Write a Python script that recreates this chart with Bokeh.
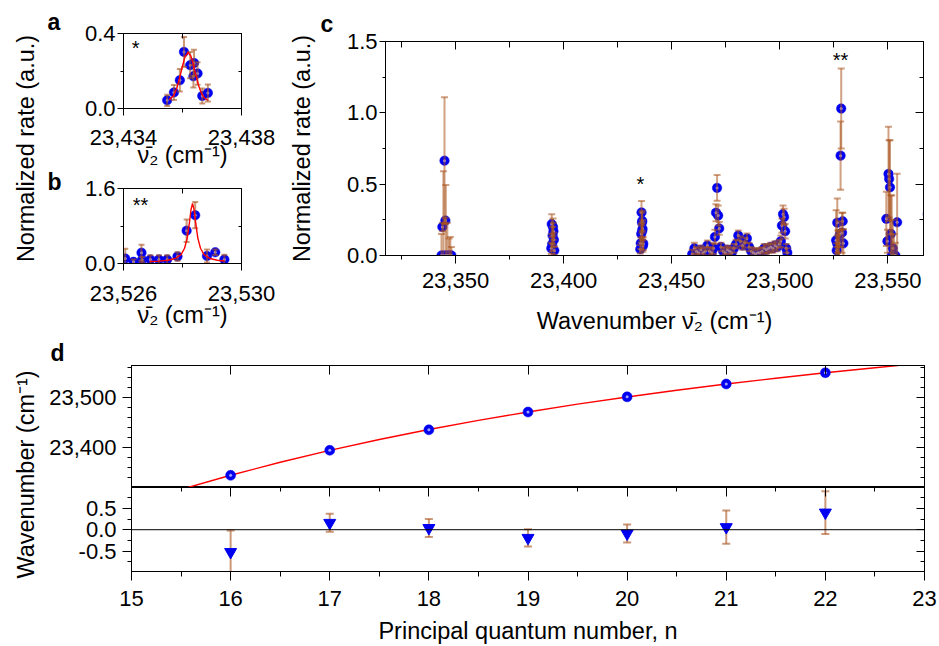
import math
from bokeh.plotting import figure
from bokeh.models import (ColumnDataSource, FixedTicker, NumeralTickFormatter,
                          LinearAxis, Label, Span, Range1d, Row, Column)
from bokeh.embed import file_html
from bokeh.resources import INLINE

FONT = "Liberation Sans"
TICK_FS = "22px"
TITLE_FS = "23.5px"
LETTER_FS = "23px"
ERR = "#A9541E"
BLUE = "#0000F0"
HILITE = "#C0C0FF"
RED = "#FF0000"

NU2 = "\u03bd\u0304\u2082 (cm\u207b\u00b9)"

# ---------------- data ----------------
# panel a : resonance marked * (n = 18)
a_x = [23435.48, 23435.71, 23435.91, 23436.05, 23436.26, 23436.39, 23436.51, 23436.37, 23436.67, 23436.86]
a_y = [0.044, 0.086, 0.151, 0.302, 0.231, 0.243, 0.187, 0.172, 0.067, 0.083]
a_err = [0.03, 0.04, 0.06, 0.08, 0.07, 0.07, 0.06, 0.06, 0.04, 0.045]
fit_a_x = [23435.55, 23435.70, 23435.80, 23435.90, 23436.00, 23436.08, 23436.19, 23436.28,
           23436.36, 23436.45, 23436.55, 23436.65, 23436.75, 23436.86]
fit_a_y = [0.046, 0.069, 0.105, 0.161, 0.227, 0.273, 0.300, 0.281, 0.240, 0.181, 0.120,
           0.078, 0.055, 0.044]

# panel b : resonance marked ** (n = 21)
b_x = [23526.06, 23526.34, 23526.61, 23526.63, 23526.91, 23527.20, 23527.48, 23527.83,
       23528.14, 23528.43, 23528.83, 23529.11, 23529.42]
b_y = [0.107, 0.035, 0.23, 0.08, 0.085, 0.085, 0.085, 0.15, 0.70, 1.03, 0.16, 0.24, 0.085]
b_err = [0.21, 0.05, 0.17, 0.06, 0.09, 0.09, 0.09, 0.09, 0.24, 0.28, 0.14, 0.06, 0.10]
fit_b_x = [23526.90, 23527.20, 23527.50, 23527.75, 23527.95, 23528.07, 23528.16, 23528.24,
           23528.29, 23528.34, 23528.39, 23528.44, 23528.52, 23528.61, 23528.73, 23528.93,
           23529.18, 23529.42]
fit_b_y = [0.043, 0.051, 0.069, 0.106, 0.191, 0.325, 0.542, 0.896, 1.155, 1.28, 1.155,
           0.896, 0.542, 0.325, 0.191, 0.106, 0.069, 0.054]

# panel c : full scan, other groups
c16_x = [23343.5, 23343.9, 23344.4, 23344.9, 23345.3, 23345.5, 23346.2, 23347.0, 23347.6, 23348.1]
c16_y = [0.0, 0.20, 0.0, 0.665, 0.245, 0.0, 0.0, 0.0, 0.0, 0.0]
c16_err = [0.15, 0.03, 0.59, 0.445, 0.02, 0.495, 0.23, 0.12, 0.13, 0.06]

c17_x = [23394.3, 23394.5, 23394.7, 23394.9, 23395.1, 23395.3, 23395.5, 23395.7]
c17_y = [0.05, 0.22, 0.08, 0.14, 0.20, 0.17, 0.11, 0.035]
c17_err = [0.04, 0.07, 0.05, 0.06, 0.06, 0.06, 0.05, 0.03]

cmid_x = [23459.5, 23460.5, 23461.5, 23462.5, 23463.5, 23464.5, 23465.5, 23466.5, 23467.5,
          23468.5, 23469.3, 23470.0, 23470.5, 23471.0, 23471.5, 23472.0, 23472.8, 23473.8,
          23474.8, 23475.8, 23476.8, 23477.8, 23478.8, 23479.8, 23480.8, 23481.8, 23482.8,
          23483.8, 23484.8, 23485.8, 23486.8, 23487.8, 23488.8, 23489.8, 23490.8, 23491.8,
          23492.8, 23493.8, 23494.8, 23495.8, 23496.8, 23497.8, 23498.8, 23499.8, 23500.5,
          23501.0, 23501.5, 23502.0, 23502.5, 23503.0, 23503.5]
cmid_y = [0.01, 0.05, 0.03, 0.02, 0.04, 0.02, 0.03, 0.07, 0.03, 0.02, 0.05, 0.13, 0.30,
          0.474, 0.28, 0.19, 0.06, 0.03, 0.02, 0.04, 0.03, 0.02, 0.05, 0.08, 0.14, 0.10,
          0.07, 0.09, 0.12, 0.06, 0.03, 0.02, 0.01, 0.02, 0.02, 0.03, 0.05, 0.04, 0.05,
          0.06, 0.05, 0.07, 0.06, 0.08, 0.10, 0.21, 0.29, 0.27, 0.17, 0.05, 0.02]
cmid_err = [0.03, 0.04, 0.03, 0.03, 0.03, 0.03, 0.03, 0.035, 0.03, 0.03, 0.04, 0.05, 0.06,
            0.09, 0.07, 0.045, 0.03, 0.03, 0.03, 0.03, 0.03, 0.03, 0.03, 0.03, 0.035, 0.035,
            0.03, 0.035, 0.035, 0.03, 0.03, 0.03, 0.03, 0.03, 0.03, 0.03, 0.03, 0.03, 0.03,
            0.03, 0.03, 0.03, 0.03, 0.03, 0.04, 0.05, 0.06, 0.057, 0.05, 0.03, 0.03]

c22_x = [23549.3, 23549.8, 23550.3, 23550.6, 23551.0, 23551.4, 23551.8, 23552.3, 23552.8,
         23553.5, 23554.3]
c22_y = [0.257, 0.10, 0.572, 0.537, 0.478, 0.152, 0.0, 0.05, 0.0, 0.0, 0.233]
c22_err = [0.19, 0.08, 0.33, 0.27, 0.33, 0.27, 0.42, 0.20, 0.15, 0.09, 0.34]

cedge_x = [23568.5]
cedge_y = [0.29]
cedge_err = [0.05]

# panel d : Rydberg series
d_n = [16, 17, 18, 19, 20, 21, 22]
d_wn = [23345.3, 23395.3, 23436.2, 23471.7, 23502.0, 23527.7, 23550.1]
fit_d_n = [15.55, 16.0, 16.5, 17.0, 17.5, 18.0, 18.5, 19.0, 19.5, 20.0, 20.5, 21.0, 21.5,
           22.0, 22.5, 22.8]
fit_d_wn = [23320.0, 23345.4, 23371.4, 23395.1, 23416.8, 23436.7, 23455.0, 23471.8, 23487.4,
            23501.8, 23515.2, 23527.6, 23539.2, 23550.0, 23560.1, 23565.8]
res = [-0.52, 0.16, 0.04, -0.19, -0.09, 0.06, 0.40]
res_err = [0.50, 0.21, 0.21, 0.20, 0.21, 0.39, 0.50]


# ---------------- helpers ----------------
def base_fig(w, h, xr, yr, bl, br, bt, bb):
    p = figure(width=w, height=h, x_range=Range1d(*xr), y_range=Range1d(*yr),
               output_backend="svg", toolbar_location=None, tools="",
               x_axis_location=None, y_axis_location=None,
               min_border_left=bl, min_border_right=br,
               min_border_top=bt, min_border_bottom=bb)
    p.grid.visible = False
    p.outline_line_color = "black"
    p.outline_line_width = 1
    p.background_fill_color = "white"
    p.border_fill_color = "white"
    return p


def add_axis(p, side, ticks, minor, fmt="0", labels=True, tin=0, tout=8, min_in=0,
             min_out=4, standoff=4, title=None, title_standoff=0):
    ax = LinearAxis(ticker=FixedTicker(ticks=ticks, minor_ticks=minor))
    ax.major_tick_in = tin
    ax.major_tick_out = tout
    ax.minor_tick_in = min_in
    ax.minor_tick_out = min_out
    ax.axis_line_color = "black"
    ax.major_tick_line_color = "black"
    ax.minor_tick_line_color = "black"
    ax.formatter = NumeralTickFormatter(format=fmt)
    if labels:
        ax.major_label_text_font = FONT
        ax.major_label_text_font_size = TICK_FS
        ax.major_label_text_color = "black"
        ax.major_label_standoff = standoff
    else:
        ax.major_label_text_font_size = "1px"
        ax.major_label_text_color = None
        ax.major_label_text_alpha = 0
        ax.major_label_standoff = 0
    if title:
        ax.axis_label = title
        ax.axis_label_text_font = FONT
        ax.axis_label_text_font_size = TITLE_FS
        ax.axis_label_text_font_style = "normal"
        ax.axis_label_text_color = "black"
        ax.axis_label_standoff = title_standoff
    p.add_layout(ax, side)
    return ax


def err_bars(p, xs, ys, es, cap=7, alpha=0.6):
    lo = [y - e for y, e in zip(ys, es)]
    hi = [y + e for y, e in zip(ys, es)]
    src = ColumnDataSource(dict(x=xs, lo=lo, hi=hi))
    p.segment(x0="x", y0="lo", x1="x", y1="hi", source=src, line_color=ERR,
              line_alpha=alpha, line_width=2)
    p.scatter(x="x", y="hi", source=src, marker="dash", size=cap, line_color=ERR,
              line_alpha=alpha, line_width=2)
    p.scatter(x="x", y="lo", source=src, marker="dash", size=cap, line_color=ERR,
              line_alpha=alpha, line_width=2)


def balls(p, xs, ys, size=9.5):
    p.scatter(xs, ys, marker="circle", size=size, fill_color=BLUE, line_color=BLUE,
              line_width=0.5)
    p.scatter(xs, ys, marker="circle", size=3, fill_color=HILITE, line_color=None,
              fill_alpha=0.85)


def text(p, x, y, s, size="20px", align="left", baseline="top"):
    p.add_layout(Label(x=x, y=y, text=s, text_font=FONT, text_font_size=size,
                       text_align=align, text_baseline=baseline, text_color="black"))


def letter_title(p, s, offset, standoff):
    p.title.text = s
    p.title.align = "left"
    p.title.offset = offset
    p.title.standoff = standoff
    p.title.text_font = FONT
    p.title.text_font_size = LETTER_FS
    p.title.text_font_style = "bold"
    p.title.text_color = "black"


def label_fig(w, h, frame_left, frame_bottom_border, title, standoff):
    p = figure(width=w, height=h, x_range=Range1d(0, 1), y_range=Range1d(0, 1),
               output_backend="svg", toolbar_location=None, tools="",
               min_border_left=frame_left, min_border_right=0, min_border_top=0,
               min_border_bottom=frame_bottom_border,
               x_axis_location=None, y_axis_location=None)
    p.outline_line_color = None
    p.grid.visible = False
    ax = LinearAxis(ticker=FixedTicker(ticks=[]))
    ax.axis_line_color = None
    ax.major_tick_line_color = None
    ax.minor_tick_line_color = None
    ax.major_label_text_font_size = "1px"
    ax.major_label_text_color = None
    ax.major_label_standoff = 0
    ax.major_tick_out = 0
    ax.minor_tick_out = 0
    ax.axis_label = title
    ax.axis_label_text_font = FONT
    ax.axis_label_text_font_size = TITLE_FS
    ax.axis_label_text_font_style = "normal"
    ax.axis_label_text_color = "black"
    ax.axis_label_standoff = standoff
    p.add_layout(ax, "left")
    return p


ROW1_H = 338

# ---------------- left label column (row 1) ----------------
lab1 = label_fig(44, ROW1_H, 43, ROW1_H - 300, "Normalized rate (a.u.)", 5)

# ---------------- panel a ----------------
pa = base_fig(238, 170, (23434, 23438), (0, 0.4), 79, 41, 33, 62)
add_axis(pa, "below", [23434, 23438], [23436], fmt="0,0", tout=7, min_out=4, standoff=14,
         title=NU2, title_standoff=-6)
add_axis(pa, "left", [0, 0.4], [0.2], fmt="0.0", tout=6, min_out=3, standoff=2)
add_axis(pa, "above", [23434, 23438], [23436], labels=False, tin=6, tout=0, min_in=5, min_out=0)
add_axis(pa, "right", [0, 0.4], [0.2], labels=False, tin=5, tout=0, min_in=3, min_out=0)
balls(pa, a_x, a_y)
err_bars(pa, a_x, a_y, a_err, cap=6)
pa.line(fit_a_x, fit_a_y, line_color=RED, line_width=1.4)
letter_title(pa, "a", -76, -2)
text(pa, 23434.41, 0.381, "*", align="center")

# ---------------- panel b ----------------
pb = base_fig(238, ROW1_H - 170, (23526, 23530), (0, 1.6), 79, 41, 18, ROW1_H - 170 - 18 - 75)
add_axis(pb, "below", [23526, 23530], [23528], fmt="0,0", tout=7, min_out=4, standoff=15,
         title=NU2, title_standoff=-2)
add_axis(pb, "left", [0, 1.6], [0.8], fmt="0.0", tout=6, min_out=3, standoff=2)
add_axis(pb, "above", [23526, 23530], [23528], labels=False, tin=6, tout=0, min_in=5, min_out=0)
add_axis(pb, "right", [0, 1.6], [0.8], labels=False, tin=5, tout=0, min_in=3, min_out=0)
balls(pb, b_x, b_y)
err_bars(pb, b_x, b_y, b_err, cap=6)
pb.line(fit_b_x, fit_b_y, line_color=RED, line_width=1.4)
letter_title(pb, "b", -76, -13)
text(pb, 23526.31, 1.493, "**", align="left")

# ---------------- panel c ----------------
c_x = c16_x + c17_x + a_x + cmid_x + b_x + c22_x + cedge_x
c_y = c16_y + c17_y + a_y + cmid_y + b_y + c22_y + cedge_y
c_err = c16_err + c17_err + a_err + cmid_err + b_err + c22_err + cedge_err

pc = base_fig(657, ROW1_H, (23317.6, 23566.5), (0, 1.5), 103, 16, 41, ROW1_H - 41 - 214)
cx_major = [23350, 23400, 23450, 23500, 23550]
cx_minor = [23325, 23375, 23425, 23475, 23525]
add_axis(pc, "below", cx_major, cx_minor, fmt="0,0", tout=8, min_out=4, standoff=9,
         title="Wavenumber " + NU2, title_standoff=17)
add_axis(pc, "left", [0, 0.5, 1.0, 1.5], [0.25, 0.75, 1.25], fmt="0.0", tout=6, min_out=3,
         standoff=2, title="Normalized rate (a.u.)", title_standoff=29)
add_axis(pc, "above", cx_major, cx_minor, labels=False, tin=8, tout=0, min_in=6, min_out=0)
add_axis(pc, "right", [0, 0.5, 1.0, 1.5], [0.25, 0.75, 1.25], labels=False, tin=8, tout=0,
         min_in=4, min_out=0)
balls(pc, c_x, c_y)
err_bars(pc, c_x, c_y, c_err, cap=7, alpha=0.55)
letter_title(pc, "c", -65, 9)
text(pc, 23435.57, 0.575, "*", align="center")
text(pc, 23528.1, 1.444, "**", align="center")

# ---------------- panel d ----------------
ROW2_H = 646 - ROW1_H
lab2 = label_fig(46, ROW2_H, 43, ROW2_H - 2 * (474 - ROW1_H), "Wavenumber (cm\u207b\u00b9)", 5)

d_major = [15, 16, 17, 18, 19, 20, 21, 22, 23]
d_minor = [15.5, 16.5, 17.5, 18.5, 19.5, 20.5, 21.5, 22.5]
wn_minor = [23340, 23360, 23380, 23420, 23440, 23460, 23480, 23520, 23540, 23560]

pdt = base_fig(893, 487 - ROW1_H, (15, 23), (23321, 23564.6), 82, 15, 364 - ROW1_H, 0)
add_axis(pdt, "left", [23400, 23500], wn_minor, fmt="0,0", tout=9, min_out=4, standoff=6)
add_axis(pdt, "above", d_major, [], labels=False, tin=9, tout=0, min_in=0, min_out=0)
add_axis(pdt, "right", [23400, 23500], wn_minor, labels=False, tin=8, tout=0, min_in=4,
         min_out=0)
pdt.line(fit_d_n, fit_d_wn, line_color=RED, line_width=1.4)
balls(pdt, d_n, d_wn, size=10)
letter_title(pdt, "d", -81, -1)

pdb = base_fig(893, 159, (15, 23), (-0.975, 0.985), 82, 15, 0, 72)
add_axis(pdb, "below", d_major, d_minor, fmt="0", tout=9, min_out=5, standoff=10,
         title="Principal quantum number, n", title_standoff=9)
add_axis(pdb, "left", [-0.5, 0.0, 0.5], [-0.75, -0.25, 0.25, 0.75], fmt="0.0", tout=9,
         min_out=4, standoff=6)
add_axis(pdb, "above", d_major, d_minor, labels=False, tin=9, tout=0, min_in=4, min_out=0)
add_axis(pdb, "right", [-0.5, 0.0, 0.5], [-0.75, -0.25, 0.25, 0.75], labels=False, tin=8,
         tout=0, min_in=4, min_out=0)
pdb.add_layout(Span(location=0, dimension="width", line_color="black", line_width=1))
err_bars(pdb, d_n, res, res_err, cap=8, alpha=0.6)
pdb.scatter(d_n, res, marker="inverted_triangle", size=12, fill_color=BLUE, line_color=BLUE)

# ---------------- layout ----------------
row1 = Row(children=[lab1, Column(children=[pa, pb], spacing=0), pc], spacing=0)
row2 = Row(children=[lab2, Column(children=[pdt, pdb], spacing=0)], spacing=0)
layout = Column(children=[row1, row2], spacing=0)

open("out.html", "w").write(file_html(layout, INLINE))
